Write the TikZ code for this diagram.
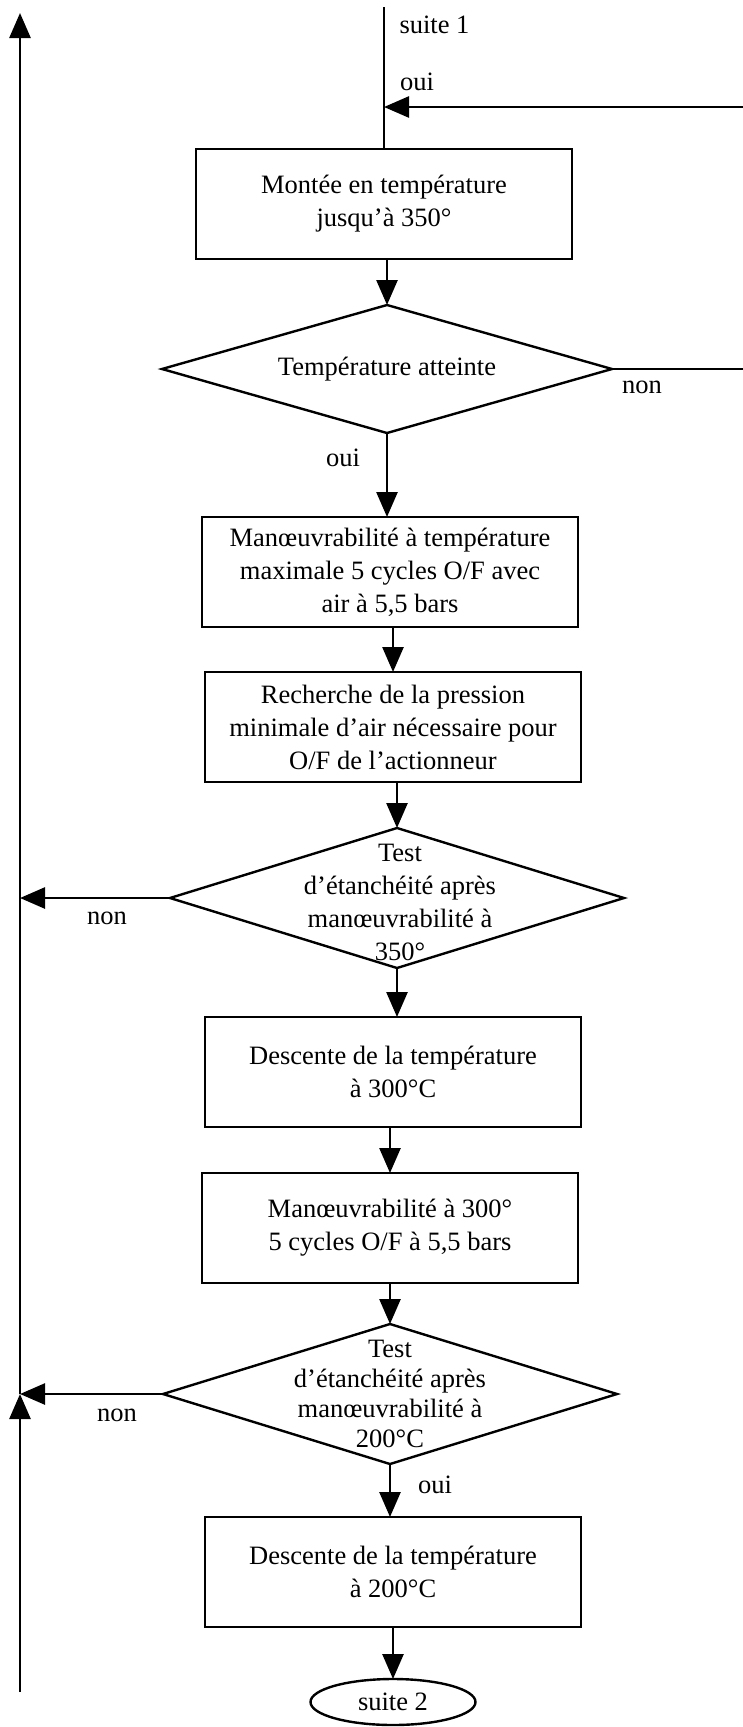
\documentclass[tikz,border=0pt]{standalone}
\usepackage{fontspec}
\setmainfont{Liberation Serif}
\usetikzlibrary{positioning,shapes.geometric,arrows.meta}

\tikzset{
    stepbox/.style={draw, line width=2.4pt, minimum width=376pt, minimum height=110pt, inner sep=0pt, outer sep=0pt, align=center},
    decision/.style={draw, diamond, line width=2.4pt, minimum width=454pt, minimum height=140pt, inner sep=0pt, outer sep=0pt},
    qtext/.style={align=center},
    flow/.style={line width=2.6pt, -{Triangle[length=25pt, width=21pt]}},
    link/.style={line width=2.6pt},
}

\begin{document}
\begin{tikzpicture}[x=1pt, y=-1pt, font=\fontsize{26.5}{33}\selectfont]
            \useasboundingbox (0,0) rectangle (743,1727);
            \node[stepbox] (heat) at (384, 204) {Montée en température\\jusqu'à 350°};
            \node[decision, minimum width=450pt, minimum height=128pt, below=46pt of heat, xshift=3pt,
                label={[qtext]center:Température atteinte}] (reached) {};
            \node[stepbox, below=84pt of reached, xshift=3pt] (cycles350) {Manœuvrabilité à température\\maximale 5 cycles O/F avec\\air à 5,5 bars};
            \node[stepbox, below=45pt of cycles350, xshift=3pt] (minpress) {Recherche de la pression\\minimale d'air nécessaire pour\\O/F de l'actionneur};
            \node[decision, below=46pt of minpress, xshift=4pt,
                label={[qtext, yshift=-4pt, xshift=3pt]center:Test\\d'étanchéité après\\manœuvrabilité à\\350°}] (leak350) {};
            \node[stepbox, below=49pt of leak350, xshift=-4pt] (cool300) {Descente de la température\\à 300°C};
            \node[stepbox, below=46pt of cool300, xshift=-3pt] (cycles300) {Manœuvrabilité à 300°\\5 cycles O/F à 5,5 bars};
            \node[decision, below=41pt of cycles300,
                label={[qtext, font=\fontsize{26.5}{30}\selectfont]center:Test\\d'étanchéité après\\manœuvrabilité à\\200°C}] (leak200) {};
            \node[stepbox, below=53pt of leak200, xshift=3pt] (cool200) {Descente de la température\\à 200°C};
            \node[ellipse, draw, line width=2.4pt, minimum width=165pt, minimum height=46pt, inner sep=0pt, outer sep=0pt,
                below=52pt of cool200] (next) {suite 2};

            % answers
            \node[anchor=west] (suite1) at (396, 25) {suite 1};
            \node (yesA) at (417, 82) {oui};
            \node (noA) at (642, 387) {non};
            \node (yesB) at (343, 458) {oui};
            \node (noB) at (107, 918) {non};
            \node (noC) at (117, 1415) {non};
            \node (yesC) at (435, 1485) {oui};

            % free ends
            \coordinate (entry) at (heat.north |- 0, 7);
            \coordinate (joinA) at (heat.north |- 0, 107);
            \coordinate (farA) at (770, 107);
            \coordinate (backA) at (leak350.west -| 20, 0);
            \coordinate (backB) at (leak200.west -| 20, 0);
            \coordinate (loopTop) at (20, 13);
            \coordinate (loopBot) at (20, 1692);

            \draw[link] (entry) -- (heat);
            \draw[flow] (reached.east) -| (farA) -- (joinA);
            \draw[flow] (heat.south -| reached.north) -- (reached.north);
            \draw[flow] (reached.south) -- (reached.south |- cycles350.north);
            \draw[flow] (cycles350.south -| minpress.north) -- (minpress.north);
            \draw[flow] (minpress.south -| leak350.north) -- (leak350.north);
            \draw[flow] (leak350.south) -- (leak350.south |- cool300.north);
            \draw[flow] (cool300.south -| cycles300.north) -- (cycles300.north);
            \draw[flow] (cycles300.south -| leak200.north) -- (leak200.north);
            \draw[flow] (leak200.south) -- (leak200.south |- cool200.north);
            \draw[flow] (cool200) -- (next);
            \draw[flow] (leak350.west) -- (backA);
            \draw[flow] (leak200.west) -- (backB);
            \draw[flow] (loopBot) -- (backB);
            \draw[flow] (backB) -- (loopTop);
\end{tikzpicture}
\end{document}
